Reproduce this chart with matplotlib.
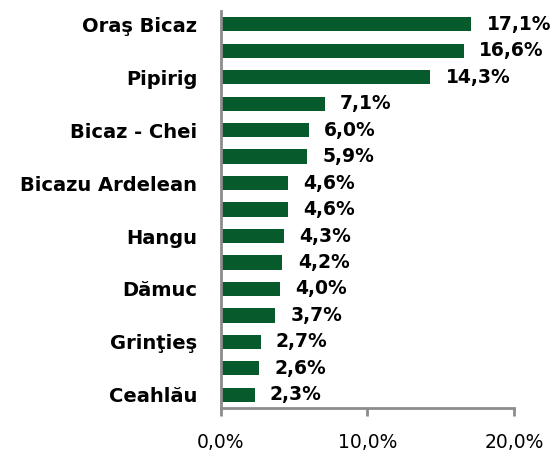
import matplotlib.pyplot as plt

# date (procente), de sus in jos
localitati = ['Oraş Bicaz', '', 'Pipirig', '', 'Bicaz - Chei', '', 'Bicazu Ardelean', '',
              'Hangu', '', 'Dămuc', '', 'Grinţieş', '', 'Ceahlău']
procente = [17.1, 16.6, 14.3, 7.1, 6.0, 5.9, 4.6, 4.6, 4.3, 4.2, 4.0, 3.7, 2.7, 2.6, 2.3]
x_ticks = [0, 10, 20]
x_ticklabels = ['0,0%', '10,0%', '20,0%']

verde = '#075a2b'
gri = '#8c8c8c'

fig = plt.figure(figsize=(5.58, 4.59), dpi=100)
ax = fig.add_axes([0.396, 0.111, 0.525, 0.865])

pozitii = list(range(len(procente)))[::-1]
ax.barh(pozitii, procente, height=0.54, color=verde)

for y, v in zip(pozitii, procente):
    ax.annotate(f'{v:.1f}%'.replace('.', ','), (v, y), xytext=(11, 0),
                textcoords='offset points', va='center', ha='left',
                fontsize=13.5, fontweight='bold')

ax.set_xlim(0, 20)
ax.set_ylim(-0.5, len(procente) - 0.5)
ax.set_yticks(pozitii)
ax.set_yticklabels(localitati, fontsize=14, fontweight='bold')
ax.set_xticks(x_ticks)
ax.set_xticklabels(x_ticklabels, fontsize=13.5)

ax.tick_params(axis='y', length=0, pad=17)
ax.tick_params(axis='x', length=6, width=2, color=gri, pad=12)
for s in ['top', 'right']:
    ax.spines[s].set_visible(False)
for s in ['left', 'bottom']:
    ax.spines[s].set_color(gri)
    ax.spines[s].set_linewidth(2)

fig.savefig('out.png', dpi=100)
